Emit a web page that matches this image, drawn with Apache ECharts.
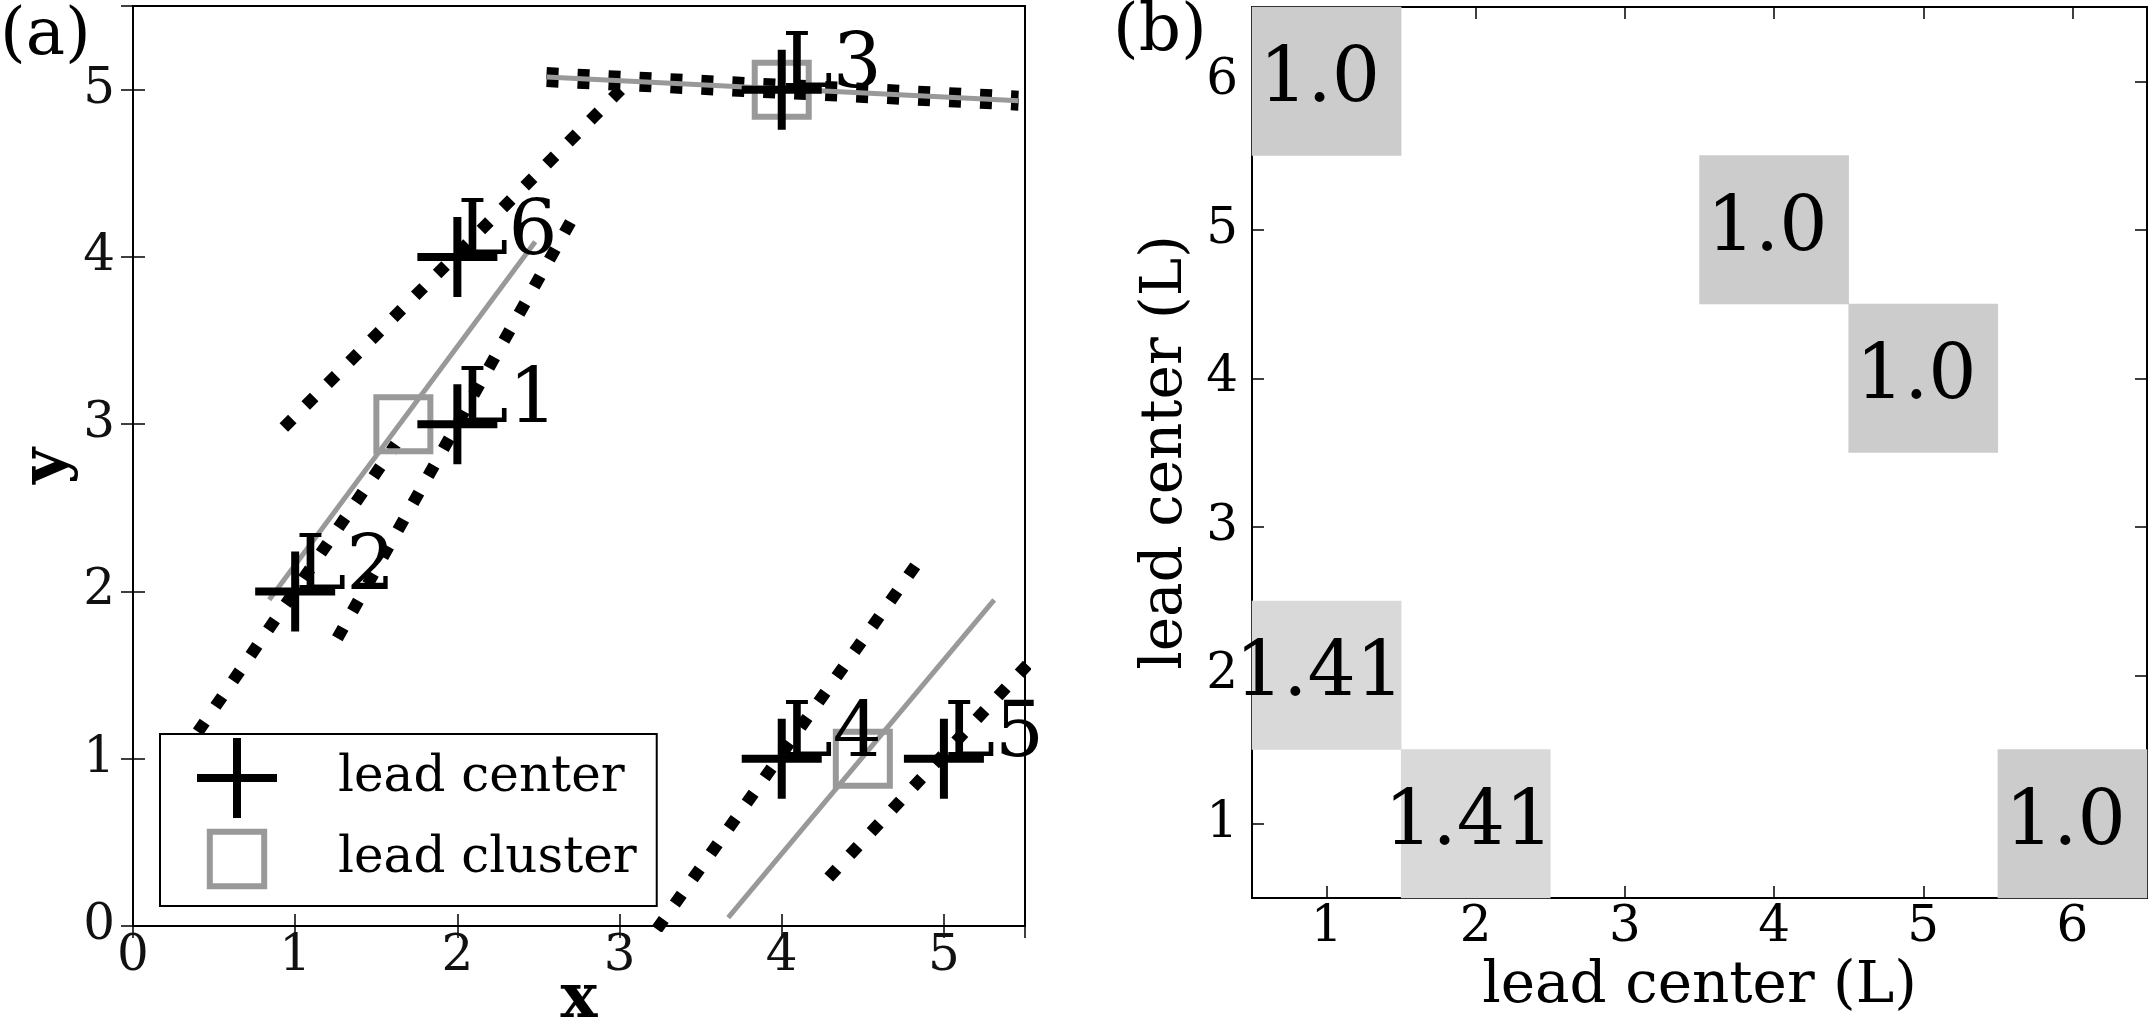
<!DOCTYPE html>
<html><head><meta charset="utf-8">
<script src="https://cdn.jsdelivr.net/npm/echarts@6/dist/echarts.min.js"></script>
<style>html,body{margin:0;padding:0;background:#fff}#c{width:2150px;height:1019px}</style>
</head><body><div id="c"></div>
<script>
// ---------- panel (a) data ----------
const leadNames = ['L1','L2','L3','L4','L5','L6'];
const leadX = [2, 1, 4, 4, 5, 2];
const leadY = [3, 2, 5, 1, 1, 4];
const clusterX = [1.667, 4.0, 4.5];
const clusterY = [3.0, 5.0, 1.0];
// gray fitted lines (endpoints)
const fitLines = [
  [[0.84, 1.95], [2.48, 4.09]],
  [[2.55, 5.075], [5.46, 4.934]],
  [[3.67, 0.05], [5.31, 1.95]]
];
// black dotted boundary lines (endpoints)
const boundLines = [
  [[0.40, 1.16], [1.62, 2.88]],
  [[0.93, 2.98], [3.05, 5.04]],
  [[1.26, 1.72], [2.75, 4.30]],
  [[2.55, 5.099], [5.46, 4.958]],
  [[2.55, 5.051], [5.46, 4.910]],
  [[3.23, -0.02], [4.88, 2.23]],
  [[4.29, 0.29], [5.6, 1.65]]
];
const axisTicksA = [0, 1, 2, 3, 4, 5];
// ---------- panel (b) data ----------
const axisCats = ['1','2','3','4','5','6'];
const cellX = ['1','4','5','1','2','6'];
const cellY = ['6','5','4','2','1','1'];
const cellVal = [1.0, 1.0, 1.0, 1.41, 1.41, 1.0];

const FF = 'DejaVu Serif';
const plusPath = 'path://M0,45H45V0H55V45H100V55H55V100H45V55H0Z';
const squareIcon = 'path://M0,0M100,100M16,16H84V84H16Z';

const tickStyle = {show:true, inside:true, length:12, lineStyle:{color:'#000', width:1.5}};
const axLine = {show:true, lineStyle:{color:'#000', width:2}};

const chart = echarts.init(document.getElementById('c'), null, {renderer:'canvas'});

const series = [];
boundLines.forEach(function(l){
  series.push({type:'line', xAxisIndex:0, yAxisIndex:0, data:l, symbol:'none', silent:true, z:2,
    lineStyle:{color:'#000', width:12, type:[12,19], cap:'butt'}});
});
fitLines.forEach(function(l){
  series.push({type:'line', xAxisIndex:0, yAxisIndex:0, data:l, symbol:'none', silent:true, z:3,
    lineStyle:{color:'#999', width:5}});
});
series.push({
  name:'lead cluster', type:'scatter', xAxisIndex:0, yAxisIndex:0, z:4,
  symbol:'rect', symbolSize:54,
  itemStyle:{color:'rgba(0,0,0,0)', borderColor:'#999', borderWidth:6, opacity:1},
  data: clusterX.map(function(x,i){return [x, clusterY[i]];})
});
series.push({
  name:'lead center', type:'scatter', xAxisIndex:0, yAxisIndex:0, z:5,
  symbol:plusPath, symbolSize:80,
  itemStyle:{color:'#000', opacity:1},
  label:{show:true, formatter:'{b}', position:[40,56], align:'left', verticalAlign:'bottom',
    fontSize:77, fontFamily:FF, color:'#000'},
  data: leadX.map(function(x,i){return {name:leadNames[i], value:[x, leadY[i]]};})
});
series.push({
  type:'heatmap', xAxisIndex:2, yAxisIndex:2,
  data: cellX.map(function(x,i){return [x, cellY[i], cellVal[i]];}),
  label:{show:true, fontSize:76, fontFamily:FF, color:'#000', offset:[-7,0],
    formatter:function(p){var v=p.value[2]; return Number.isInteger(v)? v.toFixed(1) : String(v);}},
  emphasis:{disabled:true}
});

chart.setOption({
  animation:false,
  backgroundColor:'#fff',
  title:[
    {text:'(a)', left:0, top:4, padding:0, textStyle:{fontSize:66, fontWeight:'normal', fontFamily:FF, color:'#000'}},
    {text:'(b)', left:1113, top:0, padding:0, textStyle:{fontSize:66, fontWeight:'normal', fontFamily:FF, color:'#000'}}
  ],
  legend:{
    data:[
      {name:'lead center', icon:plusPath, itemStyle:{color:'#000', borderWidth:0}},
      {name:'lead cluster', icon:squareIcon, itemStyle:{color:'rgba(0,0,0,0)', borderColor:'#999', borderWidth:6}}
    ],
    orient:'vertical', left:160, top:734,
    itemWidth:80, itemHeight:80, itemGap:-2, symbolKeepAspect:true,
    padding:[4,20,4,34],
    backgroundColor:'#fff', borderColor:'#000', borderWidth:2, borderRadius:0,
    selectedMode:false,
    textStyle:{fontSize:50, fontFamily:FF, color:'#000', padding:[0,0,0,56], lineHeight:60},
    z:10
  },
  visualMap:{type:'continuous', show:false, seriesIndex:series.length-1, dimension:2,
    min:1.0, max:1.41, inRange:{color:['#cccccc','#d9d9d9']}},
  grid:[
    {left:133, right:1125, top:6, bottom:93, show:true, borderColor:'#000', borderWidth:2,
     containLabel:false, outerBoundsMode:'none'},
    {left:1252, right:3, top:7, bottom:121, show:true, borderColor:'#000', borderWidth:2,
     containLabel:false, outerBoundsMode:'none'}
  ],
  xAxis:[
    {gridIndex:0, type:'value', min:axisTicksA[0], max:5.5, interval:1, position:'bottom',
     axisLine:axLine, axisTick:tickStyle, splitLine:{show:false},
     axisLabel:{showMaxLabel:false, margin:6, fontSize:50, fontFamily:FF, color:'#111'},
     name:'x', nameLocation:'middle', nameGap:44, nameMoveOverlap:false,
     nameTextStyle:{fontSize:62, fontWeight:'bold', fontFamily:FF, color:'#000'}},
    {gridIndex:0, type:'value', min:0, max:5.5, interval:1, position:'top',
     axisLine:axLine, axisTick:tickStyle, splitLine:{show:false}, axisLabel:{show:false}},
    {gridIndex:1, type:'category', data:axisCats, position:'bottom',
     axisLine:axLine, axisTick:Object.assign({alignWithLabel:true}, tickStyle), splitLine:{show:false},
     axisLabel:{margin:5, fontSize:50, fontFamily:FF, color:'#000'},
     name:'lead center (L)', nameLocation:'middle', nameGap:56,
     nameTextStyle:{fontSize:58, fontFamily:FF, color:'#000'}},
    {gridIndex:1, type:'category', data:axisCats, position:'top',
     axisLine:axLine, axisTick:Object.assign({alignWithLabel:true}, tickStyle), splitLine:{show:false},
     axisLabel:{show:false}}
  ],
  yAxis:[
    {gridIndex:0, type:'value', min:0, max:5.5, interval:1, position:'left',
     axisLine:axLine, axisTick:tickStyle, splitLine:{show:false},
     axisLabel:{showMaxLabel:false, margin:18, fontSize:50, fontFamily:FF, color:'#111'},
     name:'y', nameLocation:'middle', nameGap:50, nameRotate:90,
     nameTextStyle:{fontSize:62, fontWeight:'bold', fontFamily:FF, color:'#000'}},
    {gridIndex:0, type:'value', min:0, max:5.5, interval:1, position:'right',
     axisLine:axLine, axisTick:tickStyle, splitLine:{show:false}, axisLabel:{show:false}},
    {gridIndex:1, type:'category', data:axisCats, position:'left',
     axisLine:axLine, axisTick:Object.assign({alignWithLabel:true}, tickStyle), splitLine:{show:false},
     axisLabel:{margin:14, fontSize:50, fontFamily:FF, color:'#000'},
     name:'lead center (L)', nameLocation:'middle', nameGap:57, nameRotate:90,
     nameTextStyle:{fontSize:58, fontFamily:FF, color:'#000'}},
    {gridIndex:1, type:'category', data:axisCats, position:'right',
     axisLine:axLine, axisTick:Object.assign({alignWithLabel:true}, tickStyle), splitLine:{show:false},
     axisLabel:{show:false}}
  ],
  series: series
});
</script>
</body></html>
